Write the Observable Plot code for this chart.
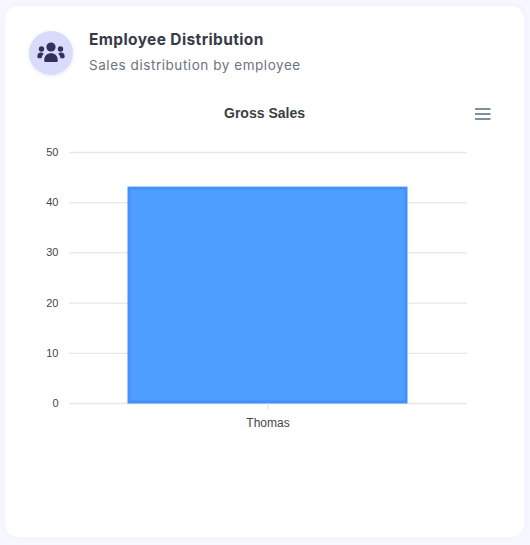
<!DOCTYPE html>
<html>
<head>
<meta charset="utf-8">
<script src="https://cdn.jsdelivr.net/npm/d3@7"></script>
<script src="https://cdn.jsdelivr.net/npm/@observablehq/plot@0.6"></script>
<style>
html,body{margin:0;padding:0;background:#f6f7ff;width:530px;height:545px;overflow:hidden}
#card{position:absolute;left:5px;top:6px;width:519px;height:531px;background:#fff;border-radius:13px;box-shadow:0 0 6px rgba(120,130,220,.06)}
#badge{position:absolute;left:29px;top:31px;width:44px;height:44px;border-radius:50%;background:#d9dbfa;box-shadow:0 1px 4px rgba(90,90,160,.12)}
#badge svg{position:absolute;left:8px;top:11px}
#head{position:absolute;left:89px;top:30px;font-family:Inter,"Open Sans",sans-serif;font-size:15.5px;font-weight:700;color:#343a45;letter-spacing:.38px;line-height:20px;white-space:nowrap;opacity:.99}
#sub{position:absolute;left:89px;top:56px;font-family:Inter,"Open Sans",sans-serif;font-size:13.5px;font-weight:400;color:#6b7280;letter-spacing:.55px;line-height:18px;white-space:nowrap;opacity:.99}
#title{position:absolute;left:0;width:529px;top:105px;text-align:center;font-family:"Liberation Sans",Arial,sans-serif;font-size:14px;font-weight:700;color:#373d3f;line-height:17px;opacity:.99}
#menu{position:absolute;left:475px;top:108px}
#chart{position:absolute;left:0;top:0;opacity:.99}
</style>
</head>
<body>
<div id="card"></div>
<div id="badge">
<svg width="28" height="22" viewBox="0 0 28 22" fill="#33305e">
<circle cx="14" cy="5" r="4.6"/>
<circle cx="4.5" cy="7" r="2.7"/>
<circle cx="23.5" cy="7" r="2.7"/>
<path d="M7.2 18.5c0-5 3-7.3 6.8-7.3s6.800 2.300 6.800 7.300c0 1-.7 1.500-1.600 1.500H8.800c-.9 0-1.600-.5-1.600-1.500z"/>
<path d="M.3 14.500c0-2.500 1.500-3.900 3.500-3.900 1.200 0 2.200.4 3 1.100-1.300 1.200-2.100 2.800-2.300 4.600H2c-1 0-1.700-.7-1.700-1.800z"/>
<path d="M27.700 14.500c0-2.500-1.500-3.900-3.500-3.900-1.200 0-2.200.4-3 1.100 1.300 1.200 2.100 2.800 2.300 4.600H26c1 0 1.700-.7 1.700-1.800z"/>
</svg>
</div>
<div id="head">Employee Distribution</div>
<div id="sub">Sales distribution by employee</div>
<div id="chart"></div>
<div id="title">Gross Sales</div>
<svg id="menu" width="16" height="12" viewBox="0 0 16 12" fill="#7d8f9c">
<rect x="0" y="0" width="15.500" height="2"/>
<rect x="0" y="5" width="15.500" height="2"/>
<rect x="0" y="10" width="15.500" height="2"/>
</svg>
<script>
const employees = ["Thomas"];
const grossSales = [43];
const yTicks = [0, 10, 20, 30, 40, 50];

const rows = employees.map((name, i) => ({name, value: grossSales[i]}));

const plot = Plot.plot({
  width: 530,
  height: 545,
  marginTop: 152,
  marginBottom: 142,
  marginLeft: 69,
  marginRight: 63,
  style: {background: "transparent", fontFamily: "'Liberation Sans',Arial,sans-serif", fontSize: "11px", color: "#373d3f"},
  x: {domain: employees, padding: 0.176, align: 0.496, label: null},
  y: {domain: [0, 50], label: null},
  marks: [
    Plot.ruleY(yTicks, {stroke: "#e7e7e7", strokeWidth: 1.3}),
    Plot.barY(rows, {x: "name", y: "value", fill: "#4b9dff", stroke: "#3f8ffe", strokeWidth: 3, inset: 1}),
    Plot.axisY({ticks: yTicks, tickSize: 0, tickPadding: 11, fontSize: 11, fill: "#444", label: null}),
    Plot.axisX({tickSize: 6, tickPadding: 9, fontSize: 12, stroke: "#dddddd", fill: "#444", label: null})
  ]
});
plot.querySelectorAll("text").forEach(t => t.setAttribute("stroke", "none"));
document.getElementById("chart").appendChild(plot);
</script>
</body>
</html>
